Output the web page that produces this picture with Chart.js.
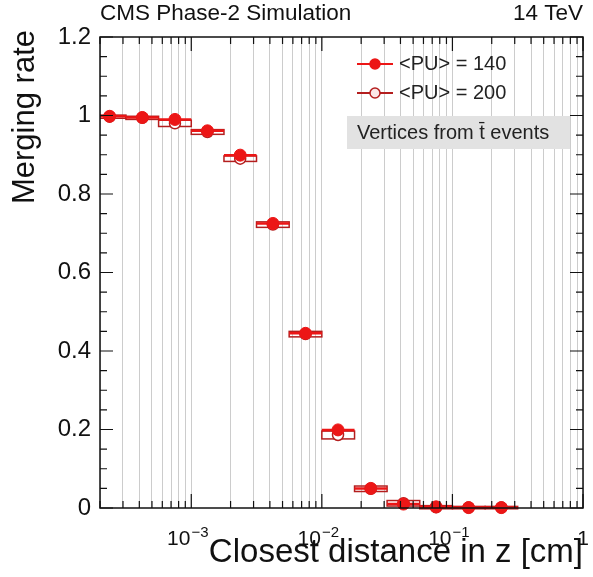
<!DOCTYPE html>
<html lang="en">
<head>
<meta charset="UTF-8">
<title>Merging rate vs closest distance in z</title>
<script src="https://cdn.jsdelivr.net/npm/chart.js"></script>
<style>
  html, body { margin: 0; padding: 0; background: #fff; }
  #wrap { width: 593px; height: 577px; position: relative; }
</style>
</head>
<body>
<div id="wrap"><canvas id="myChart"></canvas></div>
<script>
// bins in z (cm), quarter-decade wide
var binCentres = [2.37e-4, 4.22e-4, 7.5e-4, 1.33e-3, 2.37e-3, 4.22e-3, 7.5e-3, 1.33e-2, 2.37e-2, 4.22e-2, 7.5e-2, 0.133, 0.237];
var binLow     = [1.78e-4, 3.16e-4, 5.62e-4, 1e-3, 1.78e-3, 3.16e-3, 5.62e-3, 1e-2, 1.78e-2, 3.16e-2, 5.62e-2, 0.1, 0.178];
var binHigh    = [3.16e-4, 5.62e-4, 1e-3, 1.78e-3, 3.16e-3, 5.62e-3, 1e-2, 1.78e-2, 3.16e-2, 5.62e-2, 0.1, 0.178, 0.316];

// merging rate per bin
var rate140 = [0.998, 0.995, 0.990, 0.961, 0.899, 0.725, 0.445, 0.199, 0.050, 0.010, 0.003, 0.001, 0.001];
var rate200 = [0.997, 0.994, 0.980, 0.958, 0.890, 0.722, 0.443, 0.186, 0.049, 0.012, 0.002, 0.001, 0.001];
var err200  = [0.004, 0.004, 0.008, 0.006, 0.007, 0.007, 0.007, 0.010, 0.007, 0.007, 0.004, 0.003, 0.003];

var seriesLabels = ['<PU> = 140', '<PU> = 200'];
var xMajorTicks = [1e-3, 1e-2, 1e-1, 1];
var xTickBase = ['10', '10', '10', '1'];
var xTickExp  = ['\u22123', '\u22122', '\u22121', ''];
var yTicks = [0, 0.2, 0.4, 0.6, 0.8, 1, 1.2];

var col140 = 'rgb(236, 22, 22)';
var col200 = 'rgb(180, 30, 30)';
var fontFam = "'Liberation Sans', Arial, Helvetica, sans-serif";

// every gridline: 1..9 x each decade inside the range
var xAllTicks = [];
[1e-4, 1e-3, 1e-2, 1e-1].forEach(function (d) {
    for (var m = 1; m <= 9; m++) {
        var v = m * d;
        if (v >= 2e-4 - 1e-12 && v <= 1) xAllTicks.push(v);
    }
});
xAllTicks.push(1);

function isMajor(v) {
    var l = Math.log10(v);
    return Math.abs(l - Math.round(l)) < 1e-9;
}

var extras = {
    id: 'extras',
    beforeDatasetsDraw: function (chart) {
        var ctx = chart.ctx, xs = chart.scales.x, ys = chart.scales.y, a = chart.chartArea;
        ctx.save();
        ctx.beginPath();
        ctx.rect(a.left, a.top - 10, a.right - a.left, a.bottom - a.top + 20);
        ctx.clip();
        // <PU>=200 : open boxes over the bin
        ctx.strokeStyle = col200;
        ctx.lineWidth = 1.5;
        for (var i = 0; i < binCentres.length; i++) {
            var x0 = xs.getPixelForValue(binLow[i]), x1 = xs.getPixelForValue(binHigh[i]);
            var yT = ys.getPixelForValue(rate200[i] + err200[i]);
            var yB = ys.getPixelForValue(rate200[i] - err200[i]);
            ctx.strokeRect(x0, yT, x1 - x0, yB - yT);
        }
        // <PU>=140 : horizontal bars
        ctx.strokeStyle = col140;
        ctx.lineWidth = 2.5;
        for (var j = 0; j < binCentres.length; j++) {
            var y = ys.getPixelForValue(rate140[j]);
            ctx.beginPath();
            ctx.moveTo(xs.getPixelForValue(binLow[j]), y);
            ctx.lineTo(xs.getPixelForValue(binHigh[j]), y);
            ctx.stroke();
        }
        ctx.restore();
    },
    afterDraw: function (chart) {
        var ctx = chart.ctx, xs = chart.scales.x, ys = chart.scales.y, a = chart.chartArea;
        ctx.save();
        // frame
        ctx.strokeStyle = '#111';
        ctx.lineWidth = 1.5;
        ctx.strokeRect(a.left, a.top, a.right - a.left, a.bottom - a.top);

        // inside ticks, all four sides
        ctx.lineWidth = 1.2;
        ctx.beginPath();
        xAllTicks.forEach(function (v) {
            var px = xs.getPixelForValue(v);
            var len = isMajor(v) ? 14 : 7;
            ctx.moveTo(px, a.bottom); ctx.lineTo(px, a.bottom - len);
            ctx.moveTo(px, a.top); ctx.lineTo(px, a.top + len);
        });
        for (var k = 0; k <= 24; k++) {
            var py = ys.getPixelForValue(k * 0.05);
            var l = (k % 4 === 0) ? 13 : 7;
            ctx.moveTo(a.left, py); ctx.lineTo(a.left + l, py);
            ctx.moveTo(a.right, py); ctx.lineTo(a.right - l, py);
        }
        ctx.stroke();

        // x tick labels, 10 with raised exponent
        ctx.fillStyle = '#111';
        ctx.textBaseline = 'alphabetic';
        ctx.textAlign = 'left';
        xMajorTicks.forEach(function (v, i) {
            var px = xs.getPixelForValue(v);
            ctx.font = '21px ' + fontFam;
            var wb = ctx.measureText(xTickBase[i]).width;
            ctx.font = '15px ' + fontFam;
            var we = xTickExp[i] ? ctx.measureText(xTickExp[i]).width : 0;
            var x0 = px - (wb + we) / 2 - (we ? 4 : 0);
            ctx.font = '21px ' + fontFam;
            ctx.fillText(xTickBase[i], x0, 545);
            if (we) {
                ctx.font = '15px ' + fontFam;
                ctx.fillText(xTickExp[i], x0 + wb + 1, 537);
            }
        });

        // y axis title, right-aligned near the top like ROOT
        ctx.save();
        ctx.translate(25, 30);
        ctx.rotate(-Math.PI / 2);
        ctx.font = '31px ' + fontFam;
        ctx.textAlign = 'right';
        ctx.textBaseline = 'middle';
        ctx.fillText('Merging rate', 0, 0);
        ctx.restore();

        // header
        ctx.font = '22.5px ' + fontFam;
        ctx.textAlign = 'left';
        ctx.fillText('CMS Phase-2 Simulation', a.left, 20);
        ctx.textAlign = 'right';
        ctx.fillText('14 TeV', a.right, 20);

        // legend
        var lx0 = 357, lx1 = 393, lyy = [64, 93];
        ctx.lineWidth = 2;
        [col140, col200].forEach(function (c, i) {
            ctx.strokeStyle = c;
            ctx.beginPath();
            ctx.moveTo(lx0, lyy[i]); ctx.lineTo(lx1, lyy[i]);
            ctx.stroke();
            ctx.beginPath();
            ctx.arc((lx0 + lx1) / 2, lyy[i], 5, 0, Math.PI * 2);
            ctx.fillStyle = i === 0 ? c : '#fbe6e6';
            ctx.fill();
            ctx.lineWidth = 1.5;
            ctx.stroke();
            ctx.lineWidth = 2;
        });
        ctx.fillStyle = '#222';
        ctx.font = '20px ' + fontFam;
        ctx.textAlign = 'left';
        ctx.textBaseline = 'middle';
        ctx.fillText(seriesLabels[0], 399, lyy[0]);
        ctx.fillText(seriesLabels[1], 399, lyy[1]);

        // info box
        ctx.fillStyle = '#e2e2e2';
        ctx.fillRect(347, 116, 223, 33);
        ctx.fillStyle = '#222';
        ctx.font = '20px ' + fontFam;
        ctx.fillText('Vertices from t\u0304 events', 357, 133);
        ctx.restore();
    }
};

var ctx = document.getElementById('myChart').getContext('2d');
var myChart = new Chart(ctx, {
    type: 'scatter',
    data: {
        datasets: [{
            label: seriesLabels[0],
            data: binCentres.map(function (x, i) { return { x: x, y: rate140[i] }; }),
            backgroundColor: col140,
            borderColor: col140,
            borderWidth: 1,
            pointRadius: 6,
            clip: false
        }, {
            label: seriesLabels[1],
            data: binCentres.map(function (x, i) { return { x: x, y: rate200[i] }; }),
            backgroundColor: '#fff',
            borderColor: col200,
            borderWidth: 1.5,
            pointRadius: 5.5,
            clip: false
        }]
    },
    options: {
        responsive: true,
        maintainAspectRatio: false,
        animation: false,
        devicePixelRatio: 1,
        layout: { padding: { left: 0, top: 37, right: 10, bottom: 0 } },
        plugins: {
            legend: { display: false },
            tooltip: { enabled: false }
        },
        scales: {
            x: {
                type: 'logarithmic',
                min: 2e-4,
                max: 1,
                afterBuildTicks: function (scale) {
                    scale.ticks = xAllTicks.map(function (v) { return { value: v }; });
                },
                afterFit: function (scale) {
                    scale.height = 69;
                    scale.paddingLeft = 0;
                    scale.paddingRight = 0;
                },
                ticks: {
                    autoSkip: false,
                    maxRotation: 0,
                    display: false
                },
                grid: { color: 'rgba(0,0,0,0.2)', lineWidth: 1, drawTicks: false },
                border: { display: false },
                title: {
                    display: true,
                    text: 'Closest distance in z [cm]',
                    align: 'end',
                    color: '#111',
                    font: { family: fontFam, size: 33, lineHeight: 1 },
                    padding: { top: 0, bottom: 8 }
                }
            },
            y: {
                min: 0,
                max: 1.2,
                afterBuildTicks: function (scale) {
                    scale.ticks = yTicks.map(function (v) { return { value: v }; });
                },
                afterFit: function (scale) { scale.width = 100; },
                ticks: {
                    padding: 9,
                    color: '#111',
                    font: { family: fontFam, size: 24 },
                    callback: function (value) { return String(+value.toFixed(1)); }
                },
                grid: { display: false, drawTicks: false },
                border: { display: false }
            }
        }
    },
    plugins: [extras]
});
</script>
</body>
</html>
